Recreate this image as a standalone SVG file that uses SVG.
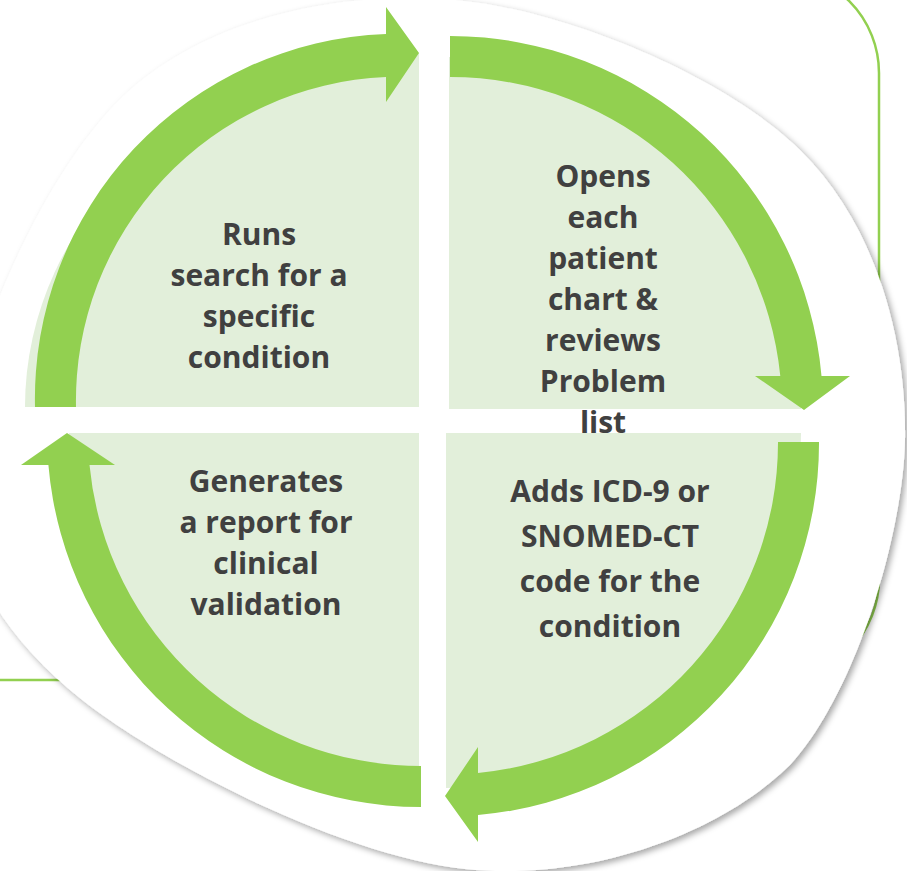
<svg xmlns="http://www.w3.org/2000/svg" width="907" height="871" viewBox="0 0 907 871">
  <style>
    .frame { fill: #FFFFFF; stroke: #92D050; stroke-width: 2.5; }
    .disc { fill: #FFFFFF; }
    .quad { fill: #E2EFDA; }
    .arrow { fill: #92D050; }
    .lbl { font-family: "Open Sans", "Liberation Sans", sans-serif; font-weight: 700; font-size: 30px; fill: #404040; text-anchor: middle; }
  </style>
  <defs>
    <filter id="shadow" x="-10%" y="-10%" width="120%" height="120%">
      <feDropShadow dx="3" dy="3" stdDeviation="3" flood-color="#000000" flood-opacity="0.35"/>
    </filter>
  </defs>

  <rect class="frame" x="-200" y="-28.5" width="1079" height="708.5" rx="101.5" ry="101.5"/>

  <path class="disc" filter="url(#shadow)" d="M455,0 C566.7,10 725,76.7 800,150 C875,223.3 906.7,337.5 905,440 C903.3,530 858,690 790,765 C716.7,836.5 585,881.5 465,869 C345,856.5 154.2,761.5 70,690 C-14.2,618.5 -50,540 -40,440 C-30,340 47.5,163.3 130,90 C212.5,16.7 343.3,-10 455,0 Z"/>

  <g id="node-runs">
    <path class="quad" d="M419,407 L25,407 A394,354 0 0 1 419,53 Z"/>
    <text class="lbl" x="259" y="245">Runs</text>
    <text class="lbl" x="259" y="286">search for a</text>
    <text class="lbl" x="259" y="327">specific</text>
    <text class="lbl" x="259" y="368">condition</text>
  </g>

  <g id="node-opens">
    <path class="quad" d="M449,409 L449,57 A352,352 0 0 1 801,409 Z"/>
    <text class="lbl" x="603" y="187">Opens</text>
    <text class="lbl" x="603" y="228">each</text>
    <text class="lbl" x="603" y="269">patient</text>
    <text class="lbl" x="603" y="310">chart &amp;</text>
    <text class="lbl" x="603" y="351">reviews</text>
    <text class="lbl" x="603" y="392">Problem</text>
    <text class="lbl" x="603" y="433">list</text>
  </g>

  <g id="node-adds">
    <path class="quad" d="M446,433 L801,433 A355,355 0 0 1 446,788 Z"/>
    <text class="lbl" x="610" y="502">Adds ICD-9 or</text>
    <text class="lbl" x="610" y="547">SNOMED-CT</text>
    <text class="lbl" x="610" y="592">code for the</text>
    <text class="lbl" x="610" y="637">condition</text>
  </g>

  <g id="node-generates">
    <path class="quad" d="M419,433 L419,783 A350,350 0 0 1 69,433 Z"/>
    <text class="lbl" x="266" y="492">Generates</text>
    <text class="lbl" x="266" y="533">a report for</text>
    <text class="lbl" x="266" y="574">clinical</text>
    <text class="lbl" x="266" y="615">validation</text>
  </g>

  <g id="connectors">
    <path class="arrow" d="M35,407 A365,365 0 0 1 386,34 L386,7 L419,53 L386,102 L386,77 A324,324 0 0 0 76,407 Z"/>
    <path class="arrow" d="M450,36 A373,373 0 0 1 821.5,376 L850,376 L804,410 L755,376 L780.3,376 A332,332 0 0 0 450,77 Z"/>
    <path class="arrow" d="M819,442 A373,373 0 0 1 478,815 L478,842 L445,796 L478,747 L478,773 A332,332 0 0 0 778,442 Z"/>
    <path class="arrow" d="M421,807 A374,374 0 0 1 48.4,465 L21,465 L67,433 L115,465 L89.5,465 A333,333 0 0 0 421,766 Z"/>
  </g>
</svg>
